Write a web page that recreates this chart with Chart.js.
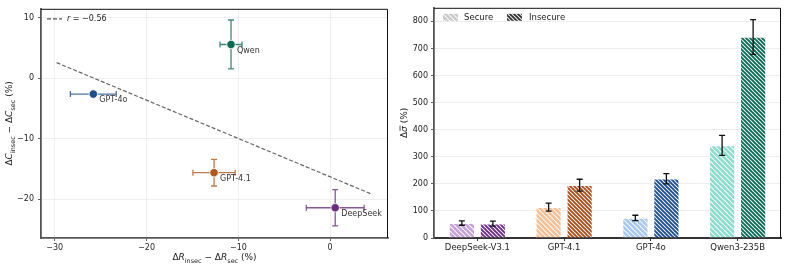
<!DOCTYPE html>
<html>
<head>
<meta charset="utf-8">
<script src="https://cdn.jsdelivr.net/npm/chart.js@4.4.1/dist/chart.umd.min.js"></script>
<style>
  body { margin: 0; background: #fff; }
  .row { display: flex; width: 788px; height: 269px; }
  .box { position: relative; width: 394px; height: 269px; }
</style>
</head>
<body>
<div class="row">
  <div class="box"><canvas id="scatterChart" width="394" height="269"></canvas></div>
  <div class="box"><canvas id="barChart" width="394" height="269"></canvas></div>
</div>
<script>
// left panel: change in C vs change in R, one point per model
const models = ["DeepSeek", "GPT-4.1", "GPT-4o", "Qwen"];
const deltaR = [0.55, -12.65, -25.8, -10.8];
const deltaC = [-21.4, -15.6, -2.6, 5.6];
const deltaRErr = [3.15, 2.3, 2.5, 1.2];
const deltaCErr = [3.0, 2.2, 0.3, 4.05];
const fitX = [-29.8, 4.6];
const fitY = [2.6, -19.2];
const fitLabel = "r = \u22120.56";
const scatterXTicks = [-30, -20, -10, 0];
const scatterYTicks = [-20, -10, 0, 10];

// right panel: bars per model, secure vs insecure
const barCategories = ["DeepSeek-V3.1", "GPT-4.1", "GPT-4o", "Qwen3-235B"];
const secureVals = [55, 114, 74, 342];
const secureErr = [8, 15, 10, 37];
const insecureVals = [53, 195, 219, 742];
const insecureErr = [9, 22, 19, 64];
const barYTicks = [0, 100, 200, 300, 400, 500, 600, 700, 800];

const pointColors = ["#6a2c7e", "#b2581d", "#1d4e8f", "#0e6a55"];
const lightColors = ["#c6a2d8", "#f5bf96", "#a6c7ee", "#8cdccd"];
const darkColors = ["#6c2c84", "#ad4f1b", "#1c4d93", "#0b6a57"];

const FONT = '"DejaVu Sans", "Liberation Sans", sans-serif';
const minus = (v) => String(v).replace("-", "\u2212");

function makeHatch(color, size) {
  const c = document.createElement("canvas");
  c.width = size;
  c.height = size;
  const g = c.getContext("2d");
  g.fillStyle = color;
  g.fillRect(0, 0, size, size);
  g.strokeStyle = "rgba(255,255,255,0.92)";
  g.lineWidth = 1.1;
  g.beginPath();
  for (const k of [-size, 0, size]) {
    g.moveTo(k, 0);
    g.lineTo(k + size, size);
  }
  g.stroke();
  return g.createPattern(c, "repeat");
}

// text with italics / subscripts, e.g. axis titles
function drawRich(ctx, parts, cx, cy, size, rotate) {
  const fontFor = (p) => {
    const sz = p[1] === "s" ? size * 0.72 : size;
    const it = p[1] === "i" || p[1] === "o" ? "italic " : "";
    return `${it}${sz}px ${FONT}`;
  };
  ctx.save();
  ctx.translate(cx, cy);
  if (rotate) ctx.rotate(-Math.PI / 2);
  let total = 0;
  parts.forEach((p) => {
    ctx.font = fontFor(p);
    total += ctx.measureText(p[0]).width;
  });
  let x = -total / 2;
  ctx.fillStyle = "#222";
  ctx.textBaseline = "middle";
  ctx.textAlign = "left";
  parts.forEach((p) => {
    ctx.font = fontFor(p);
    const w = ctx.measureText(p[0]).width;
    const dy = p[1] === "s" ? size * 0.32 : 0;
    ctx.fillText(p[0], x, dy);
    if (p[1] === "o") {
      ctx.strokeStyle = "#222";
      ctx.lineWidth = 0.8;
      ctx.beginPath();
      ctx.moveTo(x + 1, -size * 0.55);
      ctx.lineTo(x + w + 0.5, -size * 0.55);
      ctx.stroke();
    }
    x += w;
  });
  ctx.restore();
}

function drawFrame(ctx, area) {
  ctx.save();
  ctx.strokeStyle = "#111";
  ctx.lineWidth = 1;
  ctx.beginPath();
  ctx.moveTo(area.left, area.top + 0.5);
  ctx.lineTo(area.right - 0.5, area.top + 0.5);
  ctx.lineTo(area.right - 0.5, area.bottom);
  ctx.stroke();
  ctx.restore();
}

function errLine(ctx, x1, y1, x2, y2, cap, vertical) {
  ctx.beginPath();
  ctx.moveTo(x1, y1);
  ctx.lineTo(x2, y2);
  if (vertical) {
    ctx.moveTo(x1 - cap, y1); ctx.lineTo(x1 + cap, y1);
    ctx.moveTo(x2 - cap, y2); ctx.lineTo(x2 + cap, y2);
  } else {
    ctx.moveTo(x1, y1 - cap); ctx.lineTo(x1, y1 + cap);
    ctx.moveTo(x2, y2 - cap); ctx.lineTo(x2, y2 + cap);
  }
  ctx.stroke();
}

const fixedTicks = (list) => (scale) => {
  scale.ticks = list.map((v) => ({ value: v }));
};

const scatterPlugin = {
  id: "scatterExtras",
  beforeDatasetsDraw(chart) {
    const { ctx, scales } = chart;
    const xs = scales.x, ys = scales.y;
    ctx.save();
    ctx.lineWidth = 1.3;
    models.forEach((m, i) => {
      ctx.strokeStyle = pointColors[i] + "cc";
      const px = xs.getPixelForValue(deltaR[i]);
      const py = ys.getPixelForValue(deltaC[i]);
      errLine(ctx, xs.getPixelForValue(deltaR[i] - deltaRErr[i]), py,
        xs.getPixelForValue(deltaR[i] + deltaRErr[i]), py, 3, false);
      errLine(ctx, px, ys.getPixelForValue(deltaC[i] + deltaCErr[i]),
        px, ys.getPixelForValue(deltaC[i] - deltaCErr[i]), 3, true);
    });
    ctx.restore();
  },
  afterDatasetsDraw(chart) {
    const { ctx, scales, chartArea } = chart;
    ctx.save();
    ctx.font = `8px ${FONT}`;
    ctx.fillStyle = "#333";
    ctx.textBaseline = "middle";
    models.forEach((m, i) => {
      const px = scales.x.getPixelForValue(deltaR[i]);
      const py = scales.y.getPixelForValue(deltaC[i]);
      ctx.fillText(m, px + 6, py + 6);
    });
    // legend
    ctx.strokeStyle = "#555";
    ctx.lineWidth = 1.2;
    ctx.setLineDash([4, 2]);
    ctx.beginPath();
    ctx.moveTo(chartArea.left + 6, chartArea.top + 10);
    ctx.lineTo(chartArea.left + 21, chartArea.top + 10);
    ctx.stroke();
    ctx.setLineDash([]);
    ctx.fillStyle = "#222";
    ctx.font = `italic 8px ${FONT}`;
    ctx.fillText("r", chartArea.left + 26, chartArea.top + 10);
    const rw = ctx.measureText("r").width;
    ctx.font = `8px ${FONT}`;
    ctx.fillText(fitLabel.slice(1), chartArea.left + 26 + rw, chartArea.top + 10);
    ctx.restore();
    drawFrame(ctx, chartArea);
    drawRich(ctx, [["\u0394", "n"], ["R", "i"], ["insec", "s"], [" \u2212 \u0394", "n"], ["R", "i"], ["sec", "s"], [" (%)", "n"]],
      (chartArea.left + chartArea.right) / 2, 258, 9, false);
    drawRich(ctx, [["\u0394", "n"], ["C", "i"], ["insec", "s"], [" \u2212 \u0394", "n"], ["C", "i"], ["sec", "s"], [" (%)", "n"]],
      10, (chartArea.top + chartArea.bottom) / 2, 9, true);
  },
};

const barPlugin = {
  id: "barExtras",
  afterDatasetsDraw(chart) {
    const { ctx, chartArea, scales } = chart;
    const errs = [secureErr, insecureErr];
    const vals = [secureVals, insecureVals];
    ctx.save();
    ctx.strokeStyle = "#111";
    ctx.lineWidth = 1.3;
    [0, 1].forEach((d) => {
      chart.getDatasetMeta(d).data.forEach((bar, j) => {
        errLine(ctx, bar.x, scales.y.getPixelForValue(vals[d][j] + errs[d][j]),
          bar.x, scales.y.getPixelForValue(vals[d][j] - errs[d][j]), 3, true);
      });
    });
    // legend
    const lx = chartArea.left + 9, ly = chartArea.top + 6;
    ctx.fillStyle = makeHatch("#c8c8c8", 5);
    ctx.fillRect(lx, ly, 15, 7);
    ctx.fillStyle = makeHatch("#333", 4);
    ctx.fillRect(lx + 64, ly, 15, 7);
    ctx.fillStyle = "#222";
    ctx.font = `8.5px ${FONT}`;
    ctx.textBaseline = "middle";
    ctx.fillText("Secure", lx + 21, ly + 3.5);
    ctx.fillText("Insecure", lx + 86, ly + 3.5);
    ctx.restore();
    drawFrame(ctx, chartArea);
    drawRich(ctx, [["\u0394", "n"], ["\u03c3", "o"], [" (%)", "n"]], 11, (chartArea.top + chartArea.bottom) / 2, 9, true);
  },
};

function buildScatter() {
  const canvas = document.getElementById("scatterChart");
  const datasets = [
    {
      type: "line",
      data: fitX.map((x, i) => ({ x, y: fitY[i] })),
      borderColor: "#666",
      borderWidth: 1.2,
      borderDash: [4, 2],
      pointRadius: 0,
      order: 2,
    },
  ];
  models.forEach((m, i) => {
    datasets.push({
      label: m,
      data: [{ x: deltaR[i], y: deltaC[i] }],
      backgroundColor: pointColors[i],
      borderColor: "#fff",
      borderWidth: 0.8,
      pointRadius: 4.2,
      order: 1,
    });
  });

  new Chart(canvas, {
    type: "scatter",
    data: { datasets },
    plugins: [scatterPlugin],
    options: {
      responsive: false,
      animation: false,
      layout: { padding: { top: 6, right: 6, left: 0, bottom: 0 } },
      plugins: { legend: { display: false }, tooltip: { enabled: false } },
      scales: {
        x: {
          type: "linear",
          min: -31.5,
          max: 6.3,
          afterBuildTicks: fixedTicks(scatterXTicks),
          afterFit: (s) => { s.height = 31; },
          ticks: { color: "#222", padding: 2, font: { size: 8, family: FONT }, callback: (v) => minus(v) },
          grid: { color: "#ebebeb", lineWidth: 0.8, tickLength: 3, tickColor: "#333" },
          border: { color: "#555", width: 1.8 },
        },
        y: {
          min: -26.4,
          max: 11.5,
          afterBuildTicks: fixedTicks(scatterYTicks),
          afterFit: (s) => { s.width = 41; },
          ticks: { color: "#222", padding: 4, font: { size: 8, family: FONT }, callback: (v) => minus(v) },
          grid: { color: "#ebebeb", lineWidth: 0.8, tickLength: 3, tickColor: "#333" },
          border: { color: "#555", width: 1.8 },
        },
      },
    },
  });
}

function buildBars() {
  const canvas = document.getElementById("barChart");
  new Chart(canvas, {
    type: "bar",
    data: {
      labels: barCategories,
      datasets: [
        {
          label: "Secure",
          data: secureVals,
          backgroundColor: lightColors.map((c) => makeHatch(c, 5)),
          borderColor: "rgba(255,255,255,0.8)",
          borderWidth: 0.8,
        },
        {
          label: "Insecure",
          data: insecureVals,
          backgroundColor: darkColors.map((c) => makeHatch(c, 4)),
          borderColor: "rgba(255,255,255,0.8)",
          borderWidth: 0.8,
        },
      ],
    },
    plugins: [barPlugin],
    options: {
      responsive: false,
      animation: false,
      categoryPercentage: 0.715,
      barPercentage: 0.83,
      layout: { padding: { top: 6, right: 7, left: 0, bottom: 0 } },
      plugins: { legend: { display: false }, tooltip: { enabled: false } },
      scales: {
        x: {
          afterFit: (s) => { s.height = 31; },
          ticks: { color: "#222", padding: 2, font: { size: 8.5, family: FONT } },
          grid: { drawOnChartArea: false, offset: false, tickLength: 3, tickColor: "#333" },
          border: { color: "#333", width: 2 },
        },
        y: {
          min: 0,
          max: 850,
          afterBuildTicks: fixedTicks(barYTicks),
          afterFit: (s) => { s.width = 40; },
          ticks: { color: "#222", padding: 3, font: { size: 8, family: FONT } },
          grid: { color: "#e8e8e8", lineWidth: 0.8, tickLength: 3, tickColor: "#333" },
          border: { color: "#555", width: 1.8 },
        },
      },
    },
  });
}

window.addEventListener("DOMContentLoaded", () => {
  buildScatter();
  buildBars();
});
</script>
</body>
</html>
